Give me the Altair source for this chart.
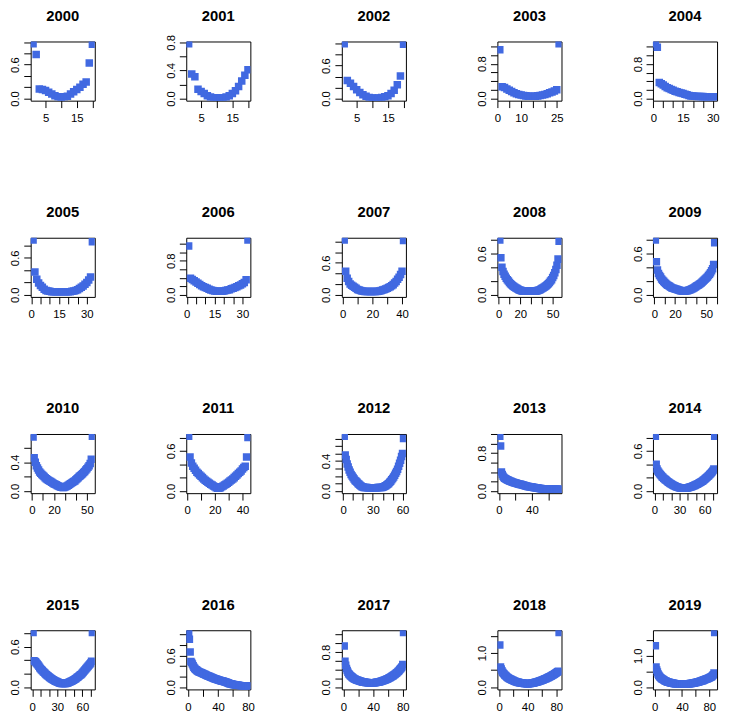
import json
import altair as alt
import pandas as pd

YEARS = list(range(2000, 2020))

Y2000 = [0.97, 0.78, 0.17, 0.16, 0.14, 0.11, 0.08, 0.05, 0.03, 0.02, 0.03, 0.04, 0.08, 0.12, 0.16, 0.20, 0.25, 0.29, 0.63, 0.96]
Y2001 = [0.78, 0.35, 0.31, 0.13, 0.10, 0.07, 0.04, 0.02, 0.01, 0.01, 0.01, 0.01, 0.02, 0.04, 0.07, 0.11, 0.17, 0.25, 0.33, 0.41]
Y2002 = [1.00, 0.33, 0.28, 0.22, 0.16, 0.11, 0.07, 0.04, 0.02, 0.01, 0.01, 0.01, 0.02, 0.03, 0.05, 0.09, 0.15, 0.25, 0.41, 0.99]
Y2003 = [1.12, 0.27, 0.25, 0.22, 0.19, 0.16, 0.13, 0.11, 0.09, 0.08, 0.07, 0.06, 0.05, 0.05, 0.05, 0.05, 0.06, 0.07, 0.08,
         0.09, 0.11, 0.13, 0.15, 0.17, 0.20, 1.26]
Y2004 = [1.27, 1.19, 0.37, 0.34, 0.31, 0.28, 0.25, 0.23, 0.21, 0.19, 0.17, 0.155, 0.14, 0.125, 0.115, 0.10, 0.085, 0.07,
         0.06, 0.055, 0.05, 0.047, 0.045, 0.044, 0.043, 0.042, 0.042, 0.041, 0.041, 0.04, 0.04]
Y2005 = [0.89, 0.37, 0.25, 0.19, 0.15, 0.12, 0.09, 0.07, 0.06, 0.055, 0.05, 0.05, 0.05, 0.05, 0.05, 0.05, 0.05, 0.05,
         0.05, 0.05, 0.05, 0.055, 0.06, 0.07, 0.08, 0.10, 0.12, 0.14, 0.17, 0.20, 0.24, 0.29, 0.86]
Y2006 = [1.15, 0.39, 0.36, 0.33, 0.30, 0.27, 0.24, 0.21, 0.19, 0.17, 0.15, 0.13, 0.11, 0.10, 0.09, 0.08, 0.08, 0.08,
         0.08, 0.09, 0.10, 0.11, 0.12, 0.14, 0.15, 0.17, 0.19, 0.21, 0.23, 0.26, 0.29, 0.35, 1.29]
Y2007 = [1.03, 0.44, 0.31, 0.25, 0.20, 0.18, 0.16, 0.14, 0.12, 0.10, 0.09, 0.08, 0.07, 0.065, 0.06, 0.06, 0.06, 0.06,
         0.06, 0.06, 0.06, 0.06, 0.06, 0.065, 0.07, 0.08, 0.09, 0.10, 0.11, 0.12, 0.135, 0.15, 0.17, 0.19, 0.22, 0.25,
         0.29, 0.33, 0.38, 0.44, 1.02]
Y2008 = [0.80, 0.54, 0.40, 0.34, 0.30, 0.27, 0.24, 0.22, 0.20, 0.18, 0.16, 0.145, 0.13, 0.12, 0.11, 0.10, 0.09, 0.08,
         0.07, 0.065, 0.06, 0.055, 0.052, 0.05, 0.05, 0.05, 0.05, 0.05, 0.05, 0.05, 0.05, 0.05, 0.05, 0.052, 0.055,
         0.06, 0.065, 0.07, 0.08, 0.09, 0.10, 0.11, 0.12, 0.13, 0.145, 0.16, 0.18, 0.20, 0.22, 0.25, 0.28, 0.32, 0.37,
         0.43, 0.52, 0.78]
Y2009 = [0.80, 0.48, 0.36, 0.31, 0.28, 0.26, 0.23, 0.21, 0.195, 0.18, 0.165, 0.15, 0.14, 0.13, 0.12, 0.11, 0.10, 0.095,
         0.09, 0.085, 0.08, 0.075, 0.07, 0.065, 0.06, 0.057, 0.054, 0.052, 0.052, 0.054, 0.057, 0.06, 0.065, 0.07,
         0.077, 0.085, 0.092, 0.10, 0.11, 0.12, 0.13, 0.14, 0.15, 0.16, 0.17, 0.185, 0.20, 0.215, 0.23, 0.245, 0.26,
         0.28, 0.30, 0.32, 0.35, 0.38, 0.44, 0.76]
Y2010 = [0.75, 0.46, 0.40, 0.35, 0.32, 0.29, 0.265, 0.245, 0.23, 0.215, 0.20, 0.185, 0.17, 0.16, 0.15, 0.14, 0.13, 0.12,
         0.11, 0.10, 0.092, 0.085, 0.077, 0.07, 0.063, 0.057, 0.052, 0.05, 0.05, 0.055, 0.062, 0.07, 0.08, 0.09, 0.10,
         0.11, 0.12, 0.13, 0.14, 0.155, 0.17, 0.185, 0.20, 0.21, 0.225, 0.24, 0.255, 0.27, 0.29, 0.31, 0.33, 0.35,
         0.38, 0.44, 0.76]
Y2011 = [0.82, 0.51, 0.42, 0.37, 0.34, 0.31, 0.28, 0.26, 0.24, 0.22, 0.20, 0.18, 0.16, 0.145, 0.13, 0.115, 0.10, 0.088,
         0.075, 0.062, 0.05, 0.042, 0.04, 0.05, 0.062, 0.075, 0.088, 0.10, 0.115, 0.13, 0.15, 0.165, 0.18, 0.20, 0.22,
         0.24, 0.26, 0.28, 0.30, 0.33, 0.35, 0.37, 0.51, 0.80]
Y2012 = [0.73, 0.48, 0.42, 0.36, 0.32, 0.28, 0.25, 0.22, 0.20, 0.18, 0.16, 0.14, 0.13, 0.115, 0.10, 0.09, 0.075, 0.066,
         0.058, 0.052, 0.048, 0.046, 0.045, 0.045, 0.044, 0.044, 0.044, 0.044, 0.044, 0.044, 0.044, 0.044, 0.044,
         0.044, 0.045, 0.045, 0.046, 0.047, 0.048, 0.05, 0.055, 0.062, 0.07, 0.08, 0.09, 0.10, 0.115, 0.13, 0.15,
         0.165, 0.185, 0.21, 0.235, 0.26, 0.29, 0.33, 0.37, 0.41, 0.46, 0.50, 0.70]
Y2013 = [1.16, 0.95, 0.40, 0.35, 0.31, 0.285, 0.27, 0.26, 0.25, 0.24, 0.23, 0.22, 0.21, 0.205, 0.20, 0.19, 0.185, 0.18,
         0.175, 0.17, 0.165, 0.16, 0.155, 0.15, 0.145, 0.14, 0.135, 0.13, 0.125, 0.12, 0.115, 0.11, 0.105, 0.10, 0.097,
         0.094, 0.091, 0.088, 0.085, 0.082, 0.079, 0.076, 0.073, 0.07, 0.067, 0.064, 0.061, 0.058, 0.055, 0.052, 0.05,
         0.048, 0.046, 0.044, 0.042, 0.041, 0.04, 0.039, 0.038, 0.037, 0.036, 0.036, 0.035, 0.035, 0.035, 0.035, 0.035,
         0.035, 0.035, 0.035, 0.035, 0.035, 0.035]
Y2014 = [0.82, 0.40, 0.33, 0.30, 0.28, 0.26, 0.245, 0.23, 0.215, 0.205, 0.19, 0.18, 0.17, 0.16, 0.15, 0.14, 0.13, 0.12,
         0.112, 0.104, 0.097, 0.09, 0.083, 0.077, 0.071, 0.065, 0.06, 0.056, 0.052, 0.048, 0.045, 0.043, 0.041, 0.04,
         0.04, 0.04, 0.041, 0.043, 0.045, 0.048, 0.052, 0.056, 0.06, 0.064, 0.068, 0.073, 0.078, 0.084, 0.09, 0.096,
         0.102, 0.108, 0.115, 0.122, 0.13, 0.138, 0.146, 0.155, 0.165, 0.175, 0.186, 0.197, 0.208, 0.22, 0.232, 0.245,
         0.258, 0.272, 0.288, 0.305, 0.33, 0.82]
Y2015 = [0.81, 0.39, 0.385, 0.375, 0.36, 0.345, 0.33, 0.31, 0.29, 0.275, 0.26, 0.247, 0.234, 0.222, 0.21, 0.197, 0.185,
         0.175, 0.165, 0.155, 0.145, 0.135, 0.126, 0.118, 0.11, 0.103, 0.096, 0.09, 0.084, 0.078, 0.073, 0.068, 0.064,
         0.06, 0.057, 0.055, 0.054, 0.054, 0.055, 0.057, 0.06, 0.063, 0.067, 0.072, 0.078, 0.084, 0.09, 0.097, 0.104,
         0.11, 0.118, 0.127, 0.136, 0.146, 0.156, 0.166, 0.176, 0.186, 0.197, 0.21, 0.225, 0.24, 0.255, 0.27, 0.285,
         0.30, 0.315, 0.33, 0.345, 0.36, 0.385, 0.81]
Y2016 = [1.04, 0.91, 0.67, 0.49, 0.47, 0.44, 0.41, 0.38, 0.36, 0.34, 0.33, 0.32, 0.31, 0.30, 0.29, 0.285, 0.28, 0.273,
         0.266, 0.26, 0.253, 0.247, 0.24, 0.233, 0.227, 0.22, 0.214, 0.208, 0.202, 0.196, 0.19, 0.184, 0.178, 0.172,
         0.166, 0.16, 0.155, 0.15, 0.146, 0.141, 0.137, 0.133, 0.128, 0.124, 0.12, 0.116, 0.112, 0.108, 0.103, 0.098,
         0.093, 0.088, 0.083, 0.078, 0.073, 0.068, 0.064, 0.06, 0.057, 0.054, 0.051, 0.048, 0.045, 0.042, 0.04, 0.038,
         0.036, 0.034, 0.032, 0.03, 0.029, 0.028, 0.027, 0.026, 0.025, 0.025, 0.024, 0.024, 0.023, 0.023]
Y2017 = [0.94, 0.59, 0.50, 0.43, 0.38, 0.34, 0.31, 0.29, 0.27, 0.255, 0.24, 0.225, 0.21, 0.20, 0.19, 0.18, 0.172, 0.165,
         0.158, 0.152, 0.146, 0.14, 0.135, 0.13, 0.126, 0.122, 0.118, 0.115, 0.112, 0.11, 0.108, 0.106, 0.105, 0.104,
         0.103, 0.102, 0.102, 0.102, 0.102, 0.103, 0.104, 0.105, 0.107, 0.109, 0.112, 0.115, 0.118, 0.122, 0.126, 0.13,
         0.135, 0.14, 0.146, 0.152, 0.158, 0.165, 0.172, 0.18, 0.188, 0.196, 0.205, 0.214, 0.223, 0.233, 0.243, 0.254,
         0.265, 0.277, 0.29, 0.303, 0.317, 0.332, 0.348, 0.365, 0.383, 0.402, 0.422, 0.445, 0.47, 0.52, 1.25]
Y2018 = [1.23, 0.59, 0.53, 0.48, 0.44, 0.41, 0.385, 0.36, 0.34, 0.32, 0.30, 0.285, 0.27, 0.258, 0.246, 0.235, 0.224,
         0.214, 0.204, 0.194, 0.185, 0.176, 0.168, 0.161, 0.154, 0.148, 0.142, 0.137, 0.132, 0.128, 0.124, 0.12, 0.117,
         0.114, 0.111, 0.109, 0.107, 0.106, 0.105, 0.105, 0.105, 0.106, 0.108, 0.11, 0.113, 0.117, 0.121, 0.126, 0.131,
         0.137, 0.143, 0.149, 0.155, 0.161, 0.168, 0.175, 0.182, 0.19, 0.198, 0.206, 0.214, 0.222, 0.231, 0.24, 0.249,
         0.258, 0.268, 0.278, 0.288, 0.298, 0.309, 0.32, 0.331, 0.343, 0.355, 0.367, 0.38, 0.393, 0.407, 0.421, 0.436,
         0.452, 0.47, 1.60]
Y2019 = [1.32, 0.64, 0.55, 0.48, 0.42, 0.38, 0.35, 0.32, 0.30, 0.28, 0.265, 0.25, 0.235, 0.22, 0.208, 0.197, 0.187,
         0.178, 0.17, 0.162, 0.155, 0.148, 0.142, 0.136, 0.131, 0.127, 0.123, 0.12, 0.117, 0.114, 0.112, 0.11, 0.108,
         0.107, 0.106, 0.105, 0.104, 0.104, 0.103, 0.103, 0.103, 0.103, 0.103, 0.104, 0.104, 0.105, 0.106, 0.107,
         0.109, 0.111, 0.113, 0.116, 0.119, 0.122, 0.126, 0.13, 0.134, 0.138, 0.143, 0.148, 0.153, 0.158, 0.164, 0.17,
         0.176, 0.182, 0.189, 0.196, 0.203, 0.21, 0.218, 0.226, 0.234, 0.242, 0.25, 0.259, 0.268, 0.278, 0.288, 0.298,
         0.309, 0.32, 0.332, 0.345, 0.37, 0.40, 0.45, 1.74]

SERIES = {2000: Y2000, 2001: Y2001, 2002: Y2002, 2003: Y2003, 2004: Y2004, 2005: Y2005, 2006: Y2006,
          2007: Y2007, 2008: Y2008, 2009: Y2009, 2010: Y2010, 2011: Y2011, 2012: Y2012, 2013: Y2013,
          2014: Y2014, 2015: Y2015, 2016: Y2016, 2017: Y2017, 2018: Y2018, 2019: Y2019}

T06 = [0.0, 0.2, 0.4, 0.6]
T08 = [0.0, 0.2, 0.4, 0.6, 0.8]
T10 = [0.0, 0.2, 0.4, 0.6, 0.8, 1.0]
T12 = [0.0, 0.2, 0.4, 0.6, 0.8, 1.0, 1.2]
T07 = [0.0, 0.1, 0.2, 0.3, 0.4, 0.5, 0.6, 0.7]
T15 = [0.0, 0.5, 1.0, 1.5]
Y_TICKS = {2000: T10, 2001: T08, 2002: T10, 2003: T12, 2004: T12, 2005: T08, 2006: T12, 2007: T10,
           2008: T08, 2009: T08, 2010: T06, 2011: T08, 2012: T07, 2013: T12, 2014: T08, 2015: T08,
           2016: T10, 2017: T12, 2018: T15, 2019: T15}
Y_LABELS = {2000: ["0.0", "0.6"], 2001: ["0.0", "0.4", "0.8"], 2002: ["0.0", "0.6"], 2003: ["0.0", "0.8"],
            2004: ["0.0", "0.8"], 2005: ["0.0", "0.6"], 2006: ["0.0", "0.8"], 2007: ["0.0", "0.6"],
            2008: ["0.0", "0.6"], 2009: ["0.0", "0.6"], 2010: ["0.0", "0.4"], 2011: ["0.0", "0.6"],
            2012: ["0.0", "0.4"], 2013: ["0.0", "0.8"], 2014: ["0.0", "0.6"], 2015: ["0.0", "0.6"],
            2016: ["0.0", "0.6"], 2017: ["0.0", "0.8"], 2018: ["0.0", "1.0"], 2019: ["0.0", "1.0"]}

X5 = [0, 5, 10, 15, 20, 25, 30, 35]
X10 = [0, 10, 20, 30, 40, 50, 60, 70]
X20 = [0, 20, 40, 60, 80]
X_TICKS = {2000: X5, 2001: X5, 2002: X5, 2003: X5, 2004: X5, 2005: X5, 2006: X5, 2007: X10,
           2008: X10, 2009: X10, 2010: X10, 2011: X10, 2012: X10, 2013: X20, 2014: X10, 2015: X10,
           2016: X20, 2017: X20, 2018: X20, 2019: X20}
X_LABELS = {2000: ["5", "15"], 2001: ["5", "15"], 2002: ["5", "15"], 2003: ["0", "10", "25"],
            2004: ["0", "15", "30"], 2005: ["0", "15", "30"], 2006: ["0", "15", "30"], 2007: ["0", "20", "40"],
            2008: ["0", "20", "50"], 2009: ["0", "20", "50"], 2010: ["0", "20", "50"], 2011: ["0", "20", "40"],
            2012: ["0", "30", "60"], 2013: ["0", "40"], 2014: ["0", "30", "60"], 2015: ["0", "30", "60"],
            2016: ["0", "40", "80"], 2017: ["0", "40", "80"], 2018: ["0", "40", "80"], 2019: ["0", "40", "80"]}

# the "0.8" label of 2001 reaches above its frame, which lifts that title; compensate
TITLE_OFFSET = {2001: 11}

FONT = "Liberation Sans"
BLUE = "#4169E1"


def panel(year):
    ys = SERIES[year]
    n = len(ys)
    df = pd.DataFrame({"x": list(range(1, n + 1)), "y": ys})
    ymax = max(ys)
    ydom = [-0.04 * ymax, 1.04 * ymax]
    xpad = 0.04 * (n - 1)
    xdom = [1 - xpad, n + xpad]
    yt = [t for t in Y_TICKS[year] if ydom[0] <= t <= ydom[1] + 1e-9]
    xt = [t for t in X_TICKS[year] if xdom[0] <= t <= xdom[1]]
    yexpr = "indexof(%s, datum.label) >= 0 ? datum.label : ''" % json.dumps(Y_LABELS[year])
    xexpr = "indexof(%s, datum.label) >= 0 ? datum.label : ''" % json.dumps(X_LABELS[year])
    return alt.Chart(df).mark_square(size=58, color=BLUE, opacity=1, clip=True).encode(
        x=alt.X("x:Q", scale=alt.Scale(domain=xdom, nice=False, zero=False),
                axis=alt.Axis(values=xt, format="d", labelExpr=xexpr, title=None, grid=False, domain=False,
                              tickSize=7, tickColor="black", tickWidth=1, labelFontSize=11.5, labelFont=FONT,
                              labelColor="black", labelPadding=5, labelFlush=False, labelOverlap=False)),
        y=alt.Y("y:Q", scale=alt.Scale(domain=ydom, nice=False, zero=False),
                axis=alt.Axis(values=yt, format=".1f", labelExpr=yexpr, title=None, grid=False, domain=False,
                              tickSize=7, tickColor="black", tickWidth=1, labelFontSize=11.5, labelFont=FONT,
                              labelColor="black", labelPadding=5, labelAngle=270, labelAlign="center",
                              labelBaseline="alphabetic", labelFlush=False, labelOverlap=False)),
    ).properties(
        width=65, height=60,
        title=alt.TitleParams(str(year), fontSize=15, fontWeight="bold", font=FONT, color="black",
                              anchor="middle", frame="group", offset=TITLE_OFFSET.get(year, 18)),
    )


chart = alt.concat(*[panel(y) for y in YEARS], columns=5).properties(
    spacing={"row": 139, "column": 92.75},
    bounds="flush",
    padding={"left": 1, "top": -5, "right": 2, "bottom": 0},
).configure(background="white").configure_view(stroke="black", strokeWidth=1)

chart.save("out.html", embed_options={"renderer": "svg", "actions": False})
